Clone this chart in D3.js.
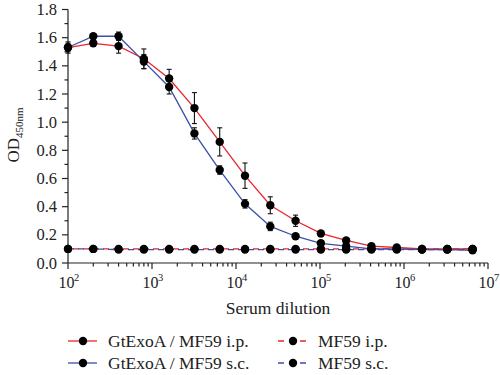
<!DOCTYPE html>
<html><head><meta charset="utf-8">
<script src="https://cdn.jsdelivr.net/npm/d3@7"></script>
<style>body{margin:0;background:#fff;} svg{display:block;}</style>
</head><body>
<svg id="c" width="500" height="375"></svg>
<script>
const dilutions = [100,200,400,800,1600,3200,6400,12800,25600,51200,102400,204800,409600,819200,1638400,3276800,6553600];
const ipValues = [1.53,1.56,1.54,1.45,1.31,1.10,0.86,0.62,0.41,0.30,0.21,0.16,0.12,0.11,0.10,0.10,0.10];
const ipErrors = [0.04,0.02,0.05,0.07,0.065,0.11,0.10,0.09,0.06,0.04,0.02,0.01,0.01,0.01,0.005,0.005,0.005];
const scValues = [1.53,1.61,1.61,1.43,1.25,0.92,0.66,0.42,0.26,0.19,0.14,0.12,0.10,0.10,0.095,0.095,0.09];
const scErrors = [0.03,0.01,0.03,0.05,0.05,0.04,0.03,0.03,0.03,0.01,0.02,0.01,0.005,0.005,0.005,0.005,0.005];
const mf59ipValues = [0.10,0.10,0.10,0.10,0.10,0.10,0.10,0.10,0.10,0.10,0.10,0.10,0.10,0.10,0.10,0.10,0.10];
const mf59scValues = [0.10,0.10,0.095,0.095,0.095,0.095,0.095,0.095,0.095,0.095,0.095,0.095,0.095,0.095,0.095,0.095,0.095];
const yTicks = [0,0.2,0.4,0.6,0.8,1.0,1.2,1.4,1.6,1.8];
const xTickExps = [2,3,4,5,6,7];
const seriesNames = ["GtExoA / MF59 i.p.","GtExoA / MF59 s.c.","MF59 i.p.","MF59 s.c."];

const RED = "#e8262e", BLUE = "#3c4ea6";
const font = "'Liberation Serif','DejaVu Serif',serif";
const svg = d3.select("#c");
const x = d3.scaleLog().domain([1e2,1e7]).range([68,488]);
const y = d3.scaleLinear().domain([0,1.8]).range([263,9.5]);

const ax = svg.append("g").attr("stroke","#222").attr("stroke-width",1.2);
ax.append("line").attr("x1",x(1e2)).attr("x2",x(1e7)).attr("y1",y(0)).attr("y2",y(0));
ax.append("line").attr("x1",x(1e2)).attr("x2",x(1e2)).attr("y1",y(0)).attr("y2",y(1.8));
yTicks.forEach(v=>{
  ax.append("line").attr("x1",x(1e2)-6).attr("x2",x(1e2)).attr("y1",y(v)).attr("y2",y(v));
});
for(let i=0;i<yTicks.length-1;i++){
  const m=(yTicks[i]+yTicks[i+1])/2;
  ax.append("line").attr("x1",x(1e2)-3.5).attr("x2",x(1e2)).attr("y1",y(m)).attr("y2",y(m));
}
svg.append("g").selectAll("text").data(yTicks).join("text")
  .attr("x",57).attr("y",d=>y(d)+5.5).attr("text-anchor","end")
  .attr("font-family",font).attr("font-size",16.5).attr("fill","#222")
  .text(d=>d.toFixed(1));
xTickExps.forEach(e=>{
  const v=Math.pow(10,e);
  ax.append("line").attr("x1",x(v)).attr("x2",x(v)).attr("y1",y(0)).attr("y2",y(0)+6);
  if(e<7) for(let k=2;k<=9;k++){
    ax.append("line").attr("x1",x(v*k)).attr("x2",x(v*k)).attr("y1",y(0)).attr("y2",y(0)+3.5);
  }
  svg.append("text").attr("x",x(v)-1.5).attr("y",288).attr("text-anchor","middle")
    .attr("font-family",font).attr("font-size",16).attr("fill","#222").text("10");
  svg.append("text").attr("x",x(v)+6).attr("y",281).attr("text-anchor","start")
    .attr("font-family",font).attr("font-size",10.5).attr("fill","#222").text(e);
});
svg.append("text").attr("x",278).attr("y",314).attr("text-anchor","middle")
  .attr("font-family",font).attr("font-size",17.5).attr("fill","#222").text("Serum dilution");
const yl=svg.append("text").attr("transform","translate(19,135) rotate(-90)").attr("text-anchor","middle")
  .attr("font-family",font).attr("font-size",17).attr("fill","#222");
yl.append("tspan").text("OD");
yl.append("tspan").attr("dy",4).attr("font-size",11).text("450nm");

const line = d3.line().x(d=>x(d[0])).y(d=>y(d[1]));
function series(vals, color, dashed, off){
  svg.append("path").datum(dilutions.map((d,i)=>[d,vals[i]]))
    .attr("d",line).attr("fill","none").attr("stroke",color).attr("stroke-width",1.3)
    .attr("stroke-dasharray",dashed?"6,4":null).attr("stroke-dashoffset",off||0);
}
function errbars(vals, errs){
  const g=svg.append("g").attr("stroke","#111").attr("stroke-width",1.1);
  dilutions.forEach((d,i)=>{
    const e=errs[i]; if(e<0.015) return;
    const cx=x(d), t=y(vals[i]+e), b=y(vals[i]-e);
    g.append("line").attr("x1",cx).attr("x2",cx).attr("y1",t).attr("y2",b);
    g.append("line").attr("x1",cx-2.5).attr("x2",cx+2.5).attr("y1",t).attr("y2",t);
    g.append("line").attr("x1",cx-2.5).attr("x2",cx+2.5).attr("y1",b).attr("y2",b);
  });
}
function dots(vals){
  svg.append("g").selectAll("circle").data(dilutions).join("circle")
    .attr("cx",d=>x(d)).attr("cy",(d,i)=>y(vals[i])).attr("r",4.2).attr("fill","#000");
}
series(mf59ipValues, RED, true, 5);
series(mf59scValues, BLUE, true, 0);
series(ipValues, RED, false);
series(scValues, BLUE, false);
errbars(ipValues, ipErrors);
errbars(scValues, scErrors);
dots(mf59ipValues); dots(mf59scValues);
dots(ipValues); dots(scValues);

const leg=[{n:seriesNames[0],c:RED,d:false,x:68,y:341},{n:seriesNames[1],c:BLUE,d:false,x:68,y:363},
           {n:seriesNames[2],c:RED,d:true,x:278,y:341},{n:seriesNames[3],c:BLUE,d:true,x:278,y:363}];
leg.forEach(l=>{
  svg.append("line").attr("x1",l.x).attr("x2",l.x+29).attr("y1",l.y).attr("y2",l.y)
    .attr("stroke",l.c).attr("stroke-width",1.3).attr("stroke-dasharray",l.d?"6,5":null);
  svg.append("circle").attr("cx",l.x+15).attr("cy",l.y).attr("r",4.2).attr("fill","#000");
  svg.append("text").attr("x",l.x+40).attr("y",l.y+5.5).attr("font-family",font).attr("font-size",17.5)
    .attr("fill","#222").text(l.n);
});
</script>
</body></html>
